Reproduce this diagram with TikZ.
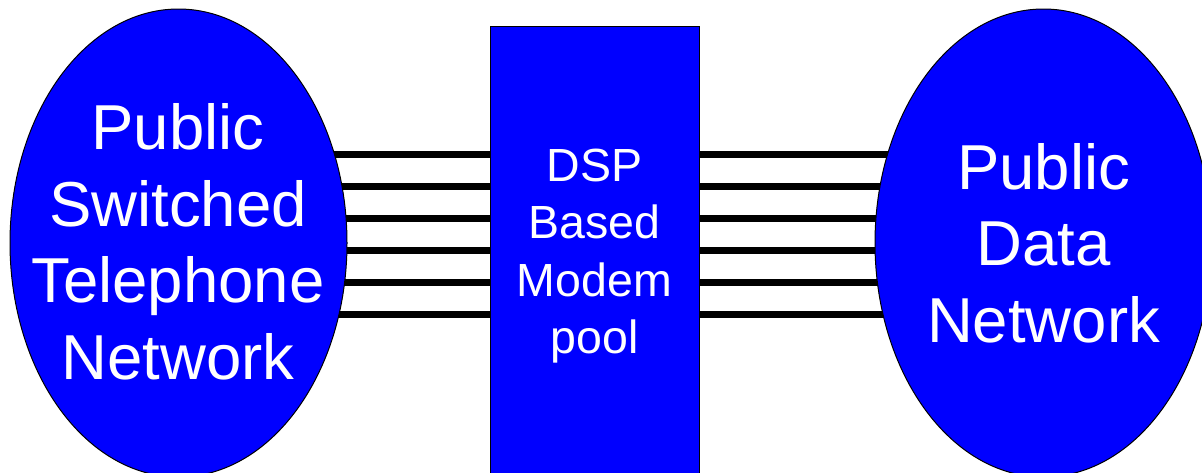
\documentclass[tikz,border=0pt]{standalone}
\usepackage{fontspec}
\setmainfont{Liberation Sans}
\usetikzlibrary{shapes.geometric,backgrounds}
\definecolor{netblue}{RGB}{0,0,255}
\tikzset{
  netell/.style={ellipse, draw=black, line width=1pt, fill=netblue, inner sep=0pt,
    minimum width=337pt, minimum height=468pt},
  poolbox/.style={rectangle, draw=black, line width=1pt, fill=netblue, inner sep=0pt,
    minimum width=209pt, minimum height=480pt},
  bigtext/.style={text=white, align=center, inner sep=0pt,
    font=\fontsize{63.5}{76.5}\selectfont},
  midtext/.style={text=white, align=center, inner sep=0pt,
    font=\fontsize{46.5}{57.5}\selectfont},
  trunk/.style={draw=black, line width=7pt}
}
\begin{document}
\begin{tikzpicture}[x=1pt,y=-1pt]
\useasboundingbox (0,0) rectangle (1202,472);
\node[netell] (L) at (178.5,243) {};
\node[netell] (R) at (1043.5,243) {};
\node[poolbox] (B) at (594.5,266) {};
\node[bigtext] (Lt) at (178,242) {Public\\Switched\\Telephone\\Network};
\node[bigtext] (Rt) at (1043.5,243) {Public\\Data\\Network};
\node[midtext] (Bt) at (594.5,256) {DSP\\Based\\Modem\\pool};
\begin{scope}[on background layer]
\fill[white] (0,0) rectangle (1202,472);
\foreach \yy in {154,186,218,250,282,314}{
  \draw[trunk] (L.center |- 0,\yy) -- (B.center |- 0,\yy);
  \draw[trunk] (B.center |- 0,\yy) -- (R.center |- 0,\yy);
}
\end{scope}
\end{tikzpicture}
\end{document}
